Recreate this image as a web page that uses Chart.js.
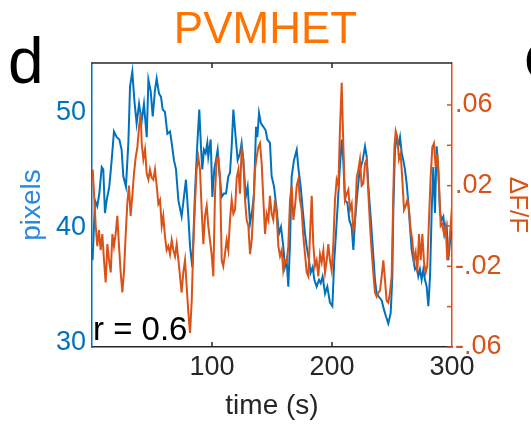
<!DOCTYPE html>
<html>
<head>
<meta charset="utf-8">
<script src="https://cdn.jsdelivr.net/npm/chart.js@4"></script>
<style>
  html, body { margin: 0; padding: 0; background: #fff; }
  canvas { display: block; }
</style>
</head>
<body>
<canvas id="traceChart" width="531" height="425"></canvas>
<script>
// blue trace: pixels (left axis)
const pixelTimes = [
  0.5, 2.5, 4.4, 6.1, 8.1, 9.4, 10.8, 12.2, 14.4, 16.4, 18.3, 20.6, 22.8, 24.7, 26.1, 28.3,
  30.3, 31.7, 33.6, 35.3, 37.2, 39.2, 41.4, 43.3, 45.6, 47.0, 48.9, 50.6, 52.5, 53.9, 55.8,
  57.5, 58.9, 60.8, 62.8, 65.0, 66.4, 68.3, 70.0, 72.0, 74.7, 78.3, 80.3, 81.7, 83.6, 85.8,
  87.8, 89.4, 90.8, 91.9, 93.3, 94.7, 96.1, 96.9, 98.9, 100.3, 101.9, 103.3, 104.7, 106.1,
  108.1, 110.0, 111.7, 113.6, 115.0, 116.4, 117.8, 119.7, 121.4, 123.3, 124.7, 126.1, 128.1,
  129.7, 131.7, 133.6, 135.0, 136.7, 137.8, 139.2, 140.8, 142.8, 144.7, 146.1, 148.3, 149.7,
  151.7, 153.9, 155.8, 157.5, 159.4, 160.8, 162.2, 163.6, 165.0, 166.4, 168.3, 170.6, 171.9,
  173.9, 175.6, 177.5, 178.9, 180.8, 182.2, 183.9, 185.3, 187.2, 189.2, 190.6, 192.2, 194.2,
  196.1, 198.3, 200.3, 201.9, 203.3, 204.7, 206.1, 208.1, 209.4, 210.8, 212.8, 214.4, 216.4,
  217.8, 219.2, 221.1, 222.8, 225.6, 227.5, 228.9, 230.3, 232.2, 233.9, 235.8, 237.2, 239.2,
  241.4, 243.3, 245.0, 246.9, 248.9, 250.3, 251.1, 252.5, 253.9, 255.3, 256.7, 258.1, 259.4,
  260.8, 262.2, 263.6, 265.0, 266.4, 267.8, 269.2, 270.6, 271.9, 273.3, 274.7, 276.1, 277.5,
  278.9, 280.3, 281.7, 283.1, 284.4, 285.8, 287.2, 288.6, 290.0, 291.4, 292.8, 294.2, 295.6,
  296.9, 298.3, 299.7
];
const pixelValues = [
  37.2, 42.4, 41.9, 43.0, 45.3, 45.1, 41.3, 42.4, 43.6, 45.9, 48.4, 47.9, 47.7, 46.8, 44.5, 43.6,
  47.4, 52.3, 53.6, 51.1, 49.1, 50.8, 49.3, 50.8, 47.9, 52.9, 51.9, 49.7, 52.0, 53.0, 51.7,
  51.4, 50.3, 50.1, 48.2, 48.4, 47.4, 45.9, 45.1, 42.4, 41.0, 44.2, 41.0, 38.4, 36.6, 43.0,
  47.4, 50.3, 47.1, 45.1, 46.8, 46.5, 47.4, 46.2, 47.7, 42.7, 45.1, 45.9, 46.8, 44.8,
  42.7, 43.0, 43.0, 44.5, 44.8, 47.1, 50.3, 47.9, 45.9, 46.5, 47.4, 45.9, 42.7,
  43.6, 40.4, 41.6, 43.0, 48.8, 47.9, 50.0, 49.1, 48.8, 48.5, 47.7, 47.4, 44.5,
  43.6, 41.6, 39.5, 40.1, 38.4, 36.6, 37.2, 34.9, 38.7, 44.5, 45.9, 46.8, 45.3,
  43.6, 41.6, 39.5, 38.4, 37.2, 36.1, 36.6, 35.5, 34.9, 35.5, 35.2, 35.8, 34.3,
  34.9, 33.5, 33.2, 37.2, 39.5, 41.9, 44.5, 47.7, 45.9, 42.4, 42.2, 40.7, 40.1,
  38.1, 40.7, 43.0, 44.8, 45.9, 47.1, 46.2, 43.6, 41.0, 38.4, 35.5, 34.3, 34.0,
  33.7, 32.9, 32.3, 31.7, 32.6, 35.8, 41.6, 46.8, 47.9, 47.1, 47.9, 46.5, 45.9,
  45.1, 43.9, 42.2, 40.1, 38.1, 37.2, 36.4, 36.6, 35.8, 36.4, 35.5, 36.4, 35.5,
  34.9, 33.2, 35.8, 41.6, 45.3, 41.3, 47.1, 45.1, 41.3, 40.7, 41.0, 39.5, 40.1,
  37.2, 38.7, 39.8
];

// orange trace: dF/F (right axis)
const dffTimes = [
  0.6, 1.7, 3.1, 4.4, 5.8, 7.2, 8.6, 10.0, 11.4, 12.8, 14.2, 15.6, 17.0, 18.3, 19.7, 21.1,
  22.5, 23.9, 25.3, 26.7, 28.1, 29.4, 30.8, 32.2, 33.6, 35.0, 36.4, 37.8, 39.2, 40.6, 41.4,
  42.8, 44.2, 45.6, 47.0, 48.3, 49.7, 51.1, 52.5, 53.9, 55.3, 56.7, 58.1, 59.4, 60.8, 62.2,
  63.6, 65.0, 66.4, 67.8, 69.2, 70.6, 72.0, 74.7, 76.1, 77.5, 78.9, 80.3, 81.7, 83.1, 84.4,
  85.8, 87.2, 88.6, 90.0, 91.4, 92.8, 94.2, 95.6, 96.9, 98.3, 99.7, 101.1, 102.5, 103.9,
  105.3, 106.7, 108.1, 109.4, 110.8, 112.2, 113.6, 115.0, 116.4, 117.8, 119.2, 120.6, 122.0,
  123.3, 124.7, 126.1, 127.5, 128.9, 130.3, 131.7, 133.1, 134.4, 135.8, 137.2, 138.6, 140.0,
  141.4, 142.8, 144.2, 145.6, 147.0, 148.3, 149.7, 151.1, 152.5, 153.9, 155.3, 156.7, 158.1,
  159.4, 160.8, 162.2, 163.6, 165.0, 166.4, 167.8, 169.2, 170.6, 171.9, 173.3, 174.7, 176.1,
  177.5, 178.9, 180.3, 181.7, 183.1, 184.4, 185.8, 187.2, 188.6, 190.0, 191.4, 192.8, 194.2,
  195.6, 196.9, 198.3, 199.7, 201.1, 202.5, 203.9, 205.3, 206.7, 208.1, 209.4, 210.8, 212.2,
  213.6, 215.0, 216.4, 217.8, 219.2, 220.6, 222.0, 223.3, 224.7, 226.1, 227.5, 228.9, 230.3,
  231.7, 233.1, 234.4, 235.8, 237.2, 238.6, 240.0, 241.4, 242.8, 244.2, 245.5, 246.9, 248.3,
  249.7, 251.1, 252.0, 253.1, 254.4, 255.8, 257.2, 258.6, 260.0, 261.4, 262.8, 264.2, 265.6,
  266.9, 268.3, 269.7, 271.1, 272.5, 273.9, 275.3, 276.7, 278.1, 279.4, 280.8, 282.2, 283.6,
  285.0, 286.4, 287.8, 289.2, 290.6, 291.9, 293.3, 294.7, 296.1, 297.5, 298.9, 300.0
];
const dffValues = [
  0.028, 0.016, 0.000, -0.010, -0.002, -0.012, -0.004, -0.017, -0.028, -0.009, -0.017, -0.023, -0.004, -0.010, -0.004, 0.005,
  -0.010, -0.023, -0.033, -0.022, -0.004, 0.011, 0.020, 0.005, 0.015, 0.026, 0.034, 0.039, 0.049, 0.056, 0.041,
  0.033, 0.038, 0.026, 0.023, 0.028, 0.024, 0.023, 0.028, 0.020, 0.011, 0.013, 0.000, 0.005, -0.005, -0.012,
  -0.010, -0.014, -0.007, -0.012, -0.015, -0.009, -0.017, -0.033, -0.023, -0.017, -0.030, -0.043, -0.053, -0.037, -0.010,
  0.011, 0.028, 0.034, 0.028, 0.008, -0.009, 0.005, 0.010, 0.000, -0.007, -0.014, -0.025, 0.016, 0.033,
  0.034, 0.024, -0.017, -0.020, -0.014, -0.007, -0.012, 0.003, 0.013, 0.006, 0.008, 0.024, 0.028,
  0.016, 0.038, 0.033, 0.013, 0.003, 0.000, -0.014, -0.007, 0.008, 0.028, 0.034, 0.039, 0.041,
  0.031, 0.013, -0.004, 0.006, 0.003, 0.015, 0.006, 0.003, 0.013, 0.005, -0.010, -0.015, -0.012,
  -0.022, -0.017, -0.018, -0.010, 0.013, 0.020, 0.003, 0.010, 0.020, 0.023, 0.013, 0.008, -0.005,
  -0.014, -0.023, -0.025, -0.004, 0.015, -0.009, -0.020, -0.017, -0.025, -0.014, -0.018, -0.012, -0.023,
  -0.017, -0.009, -0.017, -0.022, -0.009, 0.013, 0.023, 0.020, 0.049, 0.071, 0.041, 0.013, 0.016,
  0.018, 0.008, 0.011, -0.002, 0.003, 0.024, 0.028, 0.033, 0.020, 0.021, 0.031, 0.033, 0.016,
  0.000, -0.013, -0.023, -0.033, -0.035, -0.033, -0.032, -0.025, -0.017, -0.027, -0.037, -0.038, -0.033,
  -0.025, 0.016, 0.039, 0.047, 0.044, 0.033, 0.036, 0.023, 0.008, 0.010, 0.013, 0.008, -0.002,
  -0.007, -0.017, -0.013, -0.023, -0.004, -0.017, -0.004, -0.018, -0.023, -0.020, 0.003, 0.024, 0.039,
  0.041, 0.029, 0.036, 0.020, 0.000, 0.001, -0.004, 0.000, -0.017, -0.010, 0.000, 0.010
];

const timeTicks = [100, 200, 300];
const pixelTicks = [30, 40, 50];
const dffTicks = [-0.06, -0.02, 0.02, 0.06];
const dffTickMarks = [-0.06, -0.04, -0.02, 0, 0.02, 0.04, 0.06];

const FONT = '"Liberation Sans", Arial, Helvetica, sans-serif';
const BLUE = '#0072BD';
const ORANGE = '#D95319';
const AXIS = '#262626';

function toPoints(xs, ys) {
  return xs.map((x, i) => ({ x: x, y: ys[i] }));
}

function fmtDff(v) {
  return v.toFixed(2).replace('0.', '.');
}

// ticks inside the box, top border, panel letters and r value
const extras = {
  id: 'extras',
  afterDraw(chart) {
    const { ctx, chartArea: a, scales } = chart;
    ctx.save();
    ctx.lineWidth = 1.5;

    ctx.strokeStyle = AXIS;
    ctx.beginPath();
    ctx.moveTo(a.left, a.top);
    ctx.lineTo(a.right, a.top);
    ctx.stroke();

    timeTicks.forEach(v => {
      const x = scales.x.getPixelForValue(v);
      if (x >= a.right - 1) return;
      ctx.beginPath();
      ctx.moveTo(x, a.bottom); ctx.lineTo(x, a.bottom - 5);
      ctx.moveTo(x, a.top); ctx.lineTo(x, a.top + 5);
      ctx.stroke();
    });

    ctx.strokeStyle = ORANGE;
    dffTickMarks.forEach(v => {
      const y = scales.y1.getPixelForValue(v);
      ctx.beginPath();
      ctx.moveTo(a.right, y); ctx.lineTo(a.right - 5, y);
      ctx.stroke();
    });

    ctx.fillStyle = '#000';
    ctx.textAlign = 'left';
    ctx.textBaseline = 'alphabetic';
    ctx.font = '33px ' + FONT;
    ctx.fillText('r = 0.6', a.left + 1, a.bottom - 7);

    ctx.font = '64px ' + FONT;
    ctx.fillText('d', 8, 83);
    ctx.fillText('e', 524, 78);
    ctx.restore();
  }
};

new Chart(document.getElementById('traceChart').getContext('2d'), {
  type: 'line',
  data: {
    datasets: [
      {
        label: 'dF/F',
        data: toPoints(dffTimes, dffValues),
        yAxisID: 'y1',
        borderColor: ORANGE,
        borderWidth: 2,
        pointRadius: 0,
        tension: 0,
        order: 0
      },
      {
        label: 'pixels',
        data: toPoints(pixelTimes, pixelValues),
        yAxisID: 'y',
        borderColor: BLUE,
        borderWidth: 2,
        pointRadius: 0,
        tension: 0,
        order: 1
      }
    ]
  },
  options: {
    responsive: false,
    animation: false,
    layout: { padding: 0 },
    plugins: {
      legend: { display: false },
      tooltip: { enabled: false },
      title: {
        display: true,
        text: 'PVMHET',
        color: '#ff7300',
        font: { family: FONT, size: 44, weight: 'normal' },
        padding: { top: 4, bottom: 6.2 }
      }
    },
    scales: {
      x: {
        type: 'linear',
        min: 0,
        max: 300,
        afterBuildTicks: s => { s.ticks = timeTicks.map(v => ({ value: v })); },
        afterFit: s => { s.height = 78; },
        grid: { display: false, drawTicks: false },
        border: { color: AXIS, width: 1.5 },
        ticks: { color: AXIS, font: { family: FONT, size: 27 }, padding: 4, maxRotation: 0, autoSkip: false },
        title: { display: true, text: 'time (s)', color: AXIS, font: { family: FONT, size: 28 }, padding: { top: 0, bottom: 2 } }
      },
      y: {
        position: 'left',
        min: 29.65,
        max: 54.35,
        afterBuildTicks: s => { s.ticks = pixelTicks.map(v => ({ value: v })); },
        afterFit: s => { s.width = 92; },
        grid: { display: false, drawTicks: false },
        border: { color: BLUE, width: 1.5 },
        ticks: { color: BLUE, font: { family: FONT, size: 27 }, padding: 6 },
        title: { display: true, text: 'pixels', color: '#2a8ae0', font: { family: FONT, size: 28 }, padding: { top: 15, bottom: 0 } }
      },
      y1: {
        position: 'right',
        min: -0.06,
        max: 0.0808,
        afterBuildTicks: s => { s.ticks = dffTicks.map(v => ({ value: v })); },
        afterFit: s => { s.width = 79; },
        grid: { display: false, drawTicks: false },
        border: { color: ORANGE, width: 1.5 },
        ticks: { color: ORANGE, font: { family: FONT, size: 27 }, padding: 3, callback: v => fmtDff(v) },
        title: { display: true, text: 'ΔF/F', color: ORANGE, font: { family: FONT, size: 26, lineHeight: 1 }, padding: { top: 1, bottom: 0 } }
      }
    }
  },
  plugins: [extras]
});
</script>
</body>
</html>
